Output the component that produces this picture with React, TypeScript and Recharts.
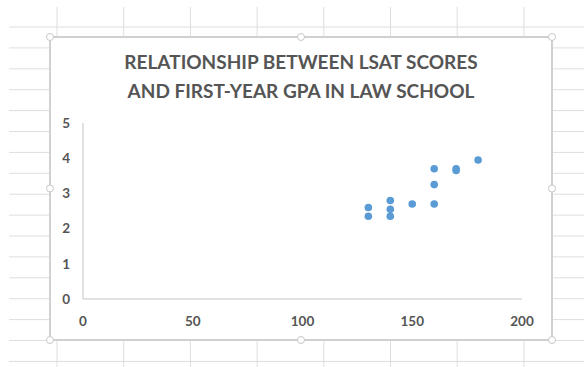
import { ScatterChart, Scatter, XAxis, YAxis } from "recharts";

// LSAT score (x) vs first-year GPA (y)
const lsatScores = [130, 130, 140, 140, 140, 150, 160, 160, 160, 170, 170, 180];
const gpaValues = [2.6, 2.35, 2.8, 2.55, 2.35, 2.7, 3.7, 3.25, 2.7, 3.7, 3.65, 3.95];
const xTicks = [0, 50, 100, 150, 200];
const yTicks = [0, 1, 2, 3, 4, 5];
const titleLines = ["RELATIONSHIP BETWEEN LSAT SCORES", "AND FIRST-YEAR GPA IN LAW SCHOOL"];

const data = lsatScores.map((x, i) => ({ lsat: x, gpa: gpaValues[i] }));

const W = 584;
const H = 367;
const FONT = "Lato, 'Open Sans', sans-serif";
const TEXT = "#555555";
const LINE = "#d9d9d9";

// spreadsheet cell grid behind the chart
const rowLines = Array.from({ length: 17 }, (_, i) => 27 + i * 20.9);
const colLines = Array.from({ length: 9 }, (_, i) => 57 + i * 66.7);

const Handle = ({ x, y }: { x: number; y: number }) => (
  <circle cx={x} cy={y} r={3.5} fill="#fff" stroke="#c8c8c8" strokeWidth={1} />
);

const App = () => {
  const box = { l: 50, t: 37, r: 552, b: 340 };
  const mx = (box.l + box.r) / 2;
  const my = (box.t + box.b) / 2;

  return (
    <div style={{ position: "absolute", left: 0, top: 0, width: W, height: H, background: "#fff", overflow: "hidden" }}>
      <svg width={W} height={H} style={{ position: "absolute", left: 0, top: 0 }}>
        {rowLines.map((y) => (
          <line key={`r${y}`} x1={9} x2={W} y1={y} y2={y} stroke="#dedede" strokeWidth={1} />
        ))}
        {colLines.map((x) => (
          <line key={`c${x}`} x1={x} x2={x} y1={7} y2={H} stroke="#dedede" strokeWidth={1} />
        ))}
        <rect
          x={box.l}
          y={box.t}
          width={box.r - box.l}
          height={box.b - box.t}
          fill="#fff"
          stroke="#d0d0d0"
          strokeWidth={2}
        />
      </svg>

      {/* Title */}
      <div
        style={{
          position: "absolute",
          left: box.l,
          width: box.r - box.l,
          top: 47,
          textAlign: "center",
          fontFamily: FONT,
          fontWeight: 700,
          fontSize: 19,
          lineHeight: "29px",
          color: TEXT,
        }}
      >
        {titleLines.map((t) => (
          <div key={t}>{t}</div>
        ))}
      </div>

      <div style={{ position: "absolute", left: 0, top: 0 }}>
        <ScatterChart width={W} height={H} margin={{ top: 123, right: 62, bottom: 38, left: 53 }}>
          <XAxis
            type="number"
            dataKey="lsat"
            domain={[0, 200]}
            ticks={xTicks}
            height={30}
            axisLine={{ stroke: LINE, strokeWidth: 1.5 }}
            tickLine={false}
            tickSize={0}
            tickMargin={17}
            tick={{ fill: TEXT, fontSize: 13.5, fontWeight: 700, fontFamily: FONT }}
          />
          <YAxis
            type="number"
            dataKey="gpa"
            domain={[0, 5]}
            ticks={yTicks}
            width={30}
            axisLine={{ stroke: LINE, strokeWidth: 1.5 }}
            tickLine={false}
            tickSize={0}
            tickMargin={13}
            tick={{ fill: TEXT, fontSize: 13.5, fontWeight: 700, fontFamily: FONT }}
          />
          <Scatter
            data={data}
            fill="#5b9bd5"
            isAnimationActive={false}
            shape={(p: any) => <circle cx={p.cx} cy={p.cy} r={3.8} fill="#5b9bd5" />}
          />
        </ScatterChart>
      </div>

      <svg width={W} height={H} style={{ position: "absolute", left: 0, top: 0, pointerEvents: "none" }}>
        <Handle x={box.l} y={box.t} />
        <Handle x={mx} y={box.t} />
        <Handle x={box.r} y={box.t} />
        <Handle x={box.l} y={my} />
        <Handle x={box.r} y={my} />
        <Handle x={box.l} y={box.b} />
        <Handle x={mx} y={box.b} />
        <Handle x={box.r} y={box.b} />
      </svg>
    </div>
  );
};

export default App;
